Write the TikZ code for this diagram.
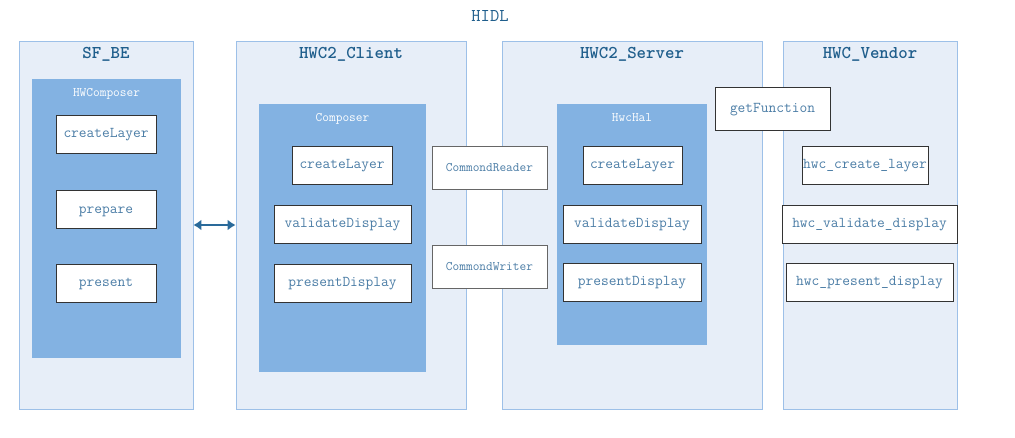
\documentclass[tikz,border=0pt]{standalone}
\usepackage{fontspec}
\usetikzlibrary{arrows.meta}
\definecolor{outerfill}{HTML}{E7EEF8}
\definecolor{outerline}{HTML}{9DC0E8}
\definecolor{innerfill}{HTML}{83B2E2}
\definecolor{titlecol}{HTML}{1F5E8C}
\definecolor{fntext}{HTML}{4B7DA6}
\definecolor{arrowcol}{HTML}{2A6A9A}
\tikzset{
  outerbox/.style={draw=outerline, fill=outerfill, line width=0.8pt, inner sep=0pt},
  innerbox/.style={fill=innerfill, inner sep=0pt},
  title/.style={text=titlecol, font=\ttfamily\bfseries\fontsize{18}{18}\selectfont, text height=0.95em, text depth=0.2em},
  sublabel/.style={text=white, font=\ttfamily\fontsize{13}{13}\selectfont, text height=0.95em, text depth=0.2em},
  fnbox/.style={draw=black!80, fill=white, line width=1pt, inner sep=0pt, minimum height=38pt,
                text=fntext, font=\ttfamily\fontsize{15}{15}\selectfont, text height=0.95em, text depth=0.2em},
  cmdbox/.style={fnbox, draw=black!60, minimum height=43pt, font=\ttfamily\fontsize{13}{13}\selectfont},
}
\begin{document}
\begin{tikzpicture}[x=1pt,y=-1pt]
\useasboundingbox (0,0) rectangle (1015,437);
% top label
\node[text=titlecol, font=\ttfamily\fontsize{18}{18}\selectfont, text height=0.95em, text depth=0.2em] (hidl) at (490,18) {HIDL};
% outer containers
\node[outerbox, minimum width=174pt, minimum height=368pt] (sfbe) at (106,225) {};
\node[outerbox, minimum width=230pt, minimum height=368pt] (client) at (351,225) {};
\node[outerbox, minimum width=260pt, minimum height=368pt] (server) at (632,225) {};
\node[outerbox, minimum width=174pt, minimum height=368pt] (vendor) at (870,225) {};
\node[title] (tsfbe) at (106,55) {SF\_BE};
\node[title] (tclient) at (351,55) {HWC2\_Client};
\node[title] (tserver) at (632,55) {HWC2\_Server};
\node[title] (tvendor) at (870,55) {HWC\_Vendor};
% inner containers
\node[innerbox, minimum width=149pt, minimum height=279pt] (hwcomposer) at (106.5,218.5) {};
\node[innerbox, minimum width=167pt, minimum height=268pt] (composer) at (342.5,238) {};
\node[innerbox, minimum width=150pt, minimum height=241pt] (hwchal) at (632,224.5) {};
\node[sublabel] (lhwcomposer) at (106.5,93) {HWComposer};
\node[sublabel] (lcomposer) at (342.5,118) {Composer};
\node[sublabel] (lhwchal) at (632,118) {HwcHal};
% SF_BE functions
\node[fnbox, minimum width=100pt] (sfcl) at (106,134) {createLayer};
\node[fnbox, minimum width=100pt] (sfpr) at (106,209.5) {prepare};
\node[fnbox, minimum width=100pt] (sfps) at (106,283) {present};
% Client functions
\node[fnbox, minimum width=100pt] (ccl) at (342,165) {createLayer};
\node[fnbox, minimum width=137pt] (cvd) at (342.5,224) {validateDisplay};
\node[fnbox, minimum width=137pt] (cpd) at (342.5,283) {presentDisplay};
% command boxes
\node[cmdbox, minimum width=115pt] (reader) at (489.5,167.5) {CommondReader};
\node[cmdbox, minimum width=115pt] (writer) at (489.5,266.5) {CommondWriter};
% Server functions
\node[fnbox, minimum width=99pt] (scl) at (632.5,165) {createLayer};
\node[fnbox, minimum width=138pt] (svd) at (632,224) {validateDisplay};
\node[fnbox, minimum width=138pt] (spd) at (632,282) {presentDisplay};
\node[fnbox, minimum width=115pt, minimum height=43pt] (getf) at (772.5,108.5) {getFunction};
% Vendor functions
\node[fnbox, minimum width=126pt] (vcl) at (865,165) {hwc\_create\_layer};
\node[fnbox, minimum width=175pt] (vvd) at (869.5,224) {hwc\_validate\_display};
\node[fnbox, minimum width=167pt] (vpd) at (869.5,282) {hwc\_present\_display};
% connector
\draw[arrowcol, line width=2pt, {Latex[length=8pt,width=11pt]}-{Latex[length=8pt,width=11pt]}] (sfbe.east) -- (client.west);
\end{tikzpicture}
\end{document}
